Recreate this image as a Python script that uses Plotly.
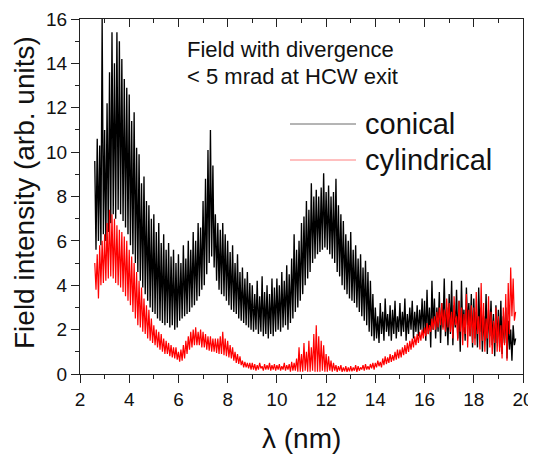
import plotly.graph_objects as go

LAMBDA_START = 2.60
LAMBDA_STEP = 0.05

# conical guide: field intensity, alternating local maxima / minima of the noisy trace
conical = [
    9.6, 5.6, 10.6, 6.0, 10.3, 5.8, 16.0, 6.3,
    11.0, 6.0, 12.2, 6.4, 13.6, 6.8, 15.4, 7.2, 14.0, 7.0, 15.4, 7.4, 15.0, 7.2, 14.2, 6.9, 13.3, 6.6, 12.9, 6.3,
    12.6, 5.8, 11.4, 5.4, 11.8, 5.0, 10.2, 4.6, 9.9, 4.2, 8.6, 3.9, 8.9, 3.6, 7.8, 3.3, 7.6, 3.0, 7.0, 2.8,
    7.2, 2.7, 6.4, 2.5, 6.8, 2.4, 5.9, 2.3, 6.3, 2.2, 5.6, 2.3, 5.9, 2.1, 5.3, 2.2, 5.6, 2.0, 5.0, 2.1,
    5.4, 2.4, 5.0, 2.5, 5.8, 2.6, 5.2, 2.7, 6.0, 2.8, 5.6, 3.0, 6.4, 3.1, 6.0, 3.3, 6.8, 3.5, 6.6, 3.8,
    7.8, 4.0, 8.8, 4.5, 10.1, 5.0, 11.0, 5.3, 9.4, 4.8, 7.2, 4.2, 6.8, 3.8, 6.5, 3.6, 6.8, 3.5, 6.3, 3.3,
    6.0, 3.1, 5.5, 2.9, 5.8, 2.8, 5.0, 2.7, 5.4, 2.5, 4.6, 2.4, 4.8, 2.3, 4.3, 2.2, 4.6, 2.1, 4.1, 2.0,
    4.0, 1.9, 3.6, 2.0, 4.2, 1.8, 3.5, 1.9, 4.4, 1.7, 3.7, 1.8, 4.0, 1.6, 3.6, 1.8, 4.3, 1.7, 3.9, 1.9,
    4.3, 2.0, 4.0, 1.9, 4.6, 2.1, 4.2, 2.2, 4.9, 2.0, 4.5, 2.3, 5.2, 2.5, 6.3, 2.8, 5.6, 3.0, 6.0, 3.3,
    6.8, 3.6, 7.1, 4.0, 7.8, 4.3, 7.4, 4.6, 8.6, 5.0, 8.0, 5.2, 8.3, 5.4, 8.0, 5.5, 8.4, 5.6, 9.05, 5.7,
    8.2, 5.6, 8.5, 5.4, 8.0, 5.2, 8.2, 5.0, 8.8, 4.6, 7.6, 4.4, 7.2, 4.0, 6.9, 3.8, 6.3, 3.6, 6.0, 3.4,
    6.4, 3.3, 5.6, 3.2, 5.8, 3.0, 5.2, 2.8, 5.4, 2.6, 4.8, 2.4, 5.1, 2.2, 4.6, 1.9, 4.2, 1.7, 3.6, 1.5,
    3.0, 1.6, 2.6, 1.4, 3.2, 1.8, 2.8, 1.5, 3.4, 1.9, 2.7, 1.7, 3.1, 1.5, 2.9, 1.8, 3.3, 1.6, 2.6, 1.9,
    3.2, 1.7, 2.8, 1.9, 3.4, 1.5, 2.7, 1.8, 3.0, 2.0, 3.3, 1.6, 2.8, 1.9, 3.1, 1.7, 2.9, 2.0, 3.4, 1.8,
    3.3, 1.5, 3.8, 1.8, 3.0, 1.2, 4.2, 2.0, 3.4, 1.6, 3.0, 1.9, 3.7, 1.4, 3.2, 2.1, 4.3, 1.7, 3.0, 1.3,
    3.6, 1.8, 4.2, 1.3, 3.1, 2.1, 3.8, 1.6, 3.3, 1.0, 4.2, 1.9, 2.9, 1.5, 3.9, 2.2, 3.2, 1.7, 3.6, 1.2,
    3.4, 1.6, 2.8, 1.2, 3.9, 1.9, 3.0, 1.0, 2.6, 1.5, 3.6, 0.9, 2.9, 1.7, 3.3, 1.3, 2.7, 0.8, 3.1, 1.4,
    2.9, 1.2, 3.3, 0.9, 2.6, 1.4, 3.0, 0.7, 2.4, 1.1, 2.0, 0.6, 2.2, 1.3, 1.6,
]

# cylindrical guide: field intensity on the same grid
cylindrical = [
    5.0, 3.8, 5.4, 3.4, 5.8, 4.0, 6.0, 4.1,
    6.3, 4.2, 6.8, 4.3, 7.4, 4.4, 7.2, 4.3, 7.0, 4.1, 6.7, 4.0, 6.5, 3.9, 6.4, 3.7, 6.2, 3.5, 6.0, 3.3,
    5.6, 3.1, 5.3, 2.8, 5.0, 2.5, 4.6, 2.2, 4.2, 2.1, 3.9, 1.9, 3.4, 1.8, 3.1, 1.6, 2.9, 1.5, 2.5, 1.4,
    2.2, 1.3, 2.0, 1.2, 1.9, 1.1, 1.8, 1.0, 1.6, 0.9, 1.5, 0.9, 1.4, 0.8, 1.3, 0.75, 1.2, 0.7, 1.2, 0.65,
    1.0, 0.55, 1.1, 0.6, 1.3, 0.7, 1.5, 0.9, 1.7, 1.1, 1.9, 1.2, 2.0, 1.3, 2.1, 1.3, 1.9, 1.3, 2.0, 1.2,
    1.9, 1.2, 1.8, 1.1, 1.7, 1.05, 1.7, 1.0, 1.6, 1.0, 1.6, 0.95, 1.6, 0.9, 1.7, 0.9, 1.9, 0.85, 1.6, 0.8,
    1.5, 0.75, 1.3, 0.7, 1.2, 0.6, 1.0, 0.5, 0.9, 0.45, 0.8, 0.4, 0.6, 0.3, 0.55, 0.3, 0.5, 0.25, 0.5, 0.2,
    0.5, 0.2, 0.45, 0.15, 0.4, 0.2, 0.5, 0.25, 0.35, 0.15, 0.45, 0.2, 0.4, 0.2, 0.5, 0.15, 0.4, 0.2, 0.45, 0.15,
    0.4, 0.2, 0.45, 0.15, 0.35, 0.2, 0.5, 0.15, 0.4, 0.2, 0.45, 0.1, 0.55, 0.15, 0.5, 0.15, 0.7, 0.1, 1.2, 0.1,
    0.9, 0.1, 1.4, 0.15, 1.0, 0.1, 1.5, 0.1, 1.2, 0.15, 1.8, 0.1, 2.2, 0.1, 1.7, 0.1, 1.5, 0.15, 1.3, 0.1,
    0.9, 0.1, 0.8, 0.15, 0.6, 0.1, 0.5, 0.15, 0.4, 0.1, 0.35, 0.15, 0.4, 0.1, 0.3, 0.12, 0.35, 0.1, 0.3, 0.12,
    0.35, 0.12, 0.3, 0.15, 0.4, 0.1, 0.35, 0.15, 0.3, 0.2, 0.4, 0.15, 0.45, 0.2, 0.35, 0.2, 0.45, 0.25, 0.5, 0.2,
    0.5, 0.3, 0.6, 0.35, 0.55, 0.3, 0.7, 0.4, 0.8, 0.45, 0.75, 0.5, 0.9, 0.55, 0.85, 0.6, 1.0, 0.65, 1.1, 0.7,
    1.1, 0.75, 1.2, 0.85, 1.3, 0.9, 1.4, 1.0, 1.5, 1.1, 1.6, 1.2, 1.7, 1.3, 1.8, 1.4, 1.9, 1.5, 2.0, 1.6,
    2.1, 1.7, 2.3, 1.8, 2.2, 1.9, 2.5, 2.0, 2.6, 2.0, 2.8, 2.1, 3.0, 2.2, 3.2, 2.0, 2.9, 1.9, 3.4, 2.1,
    3.2, 1.9, 2.8, 1.6, 3.5, 2.2, 2.6, 1.5, 3.3, 1.9, 3.0, 1.3, 2.7, 1.8, 3.6, 1.2, 2.9, 1.7, 3.1, 1.4,
    3.0, 1.3, 3.7, 1.8, 2.6, 1.1, 4.1, 1.5, 3.2, 1.0, 2.5, 1.6, 3.5, 1.2, 2.8, 0.9, 2.4, 1.4, 3.0, 1.0,
    2.6, 1.0, 2.2, 0.7, 3.0, 1.3, 3.6, 0.6, 4.1, 1.8, 4.8, 2.6, 4.3, 2.4, 2.8,
]

SERIES_NAMES = ["conical", "cylindrical"]
SERIES_COLORS = ["#000000", "#ff0000"]
SERIES_WIDTHS = [1.35, 1.2]
LEGEND_SAMPLE_COLORS = ["#6a6a6a", "#ff8080"]
X_TICKS = [2, 4, 6, 8, 10, 12, 14, 16, 18, 20]
Y_TICKS = [0, 2, 4, 6, 8, 10, 12, 14, 16]
X_TITLE = "λ (nm)"
Y_TITLE = "Field intensity (arb. units)"
NOTE_LINES = ["Field with divergence", "< 5 mrad at HCW exit"]


def grid(n):
    return [round(LAMBDA_START + LAMBDA_STEP * i, 4) for i in range(n)]


FONT = "Liberation Sans, Arial, sans-serif"
OFF = 8  # default page body margin of the written html
W, H = 536 - OFF, 455 - OFF
L, R, T, B = 80 - OFF, 13, 19 - OFF, 81
PW, PH = W - L - R, H - T - B


def px(xp):  # page pixel -> paper fraction
    return (xp - OFF - L) / PW


def py(yp):
    return 1 - (yp - OFF - T) / PH


fig = go.Figure()
for name, vals, col, lw in zip(SERIES_NAMES, [conical, cylindrical], SERIES_COLORS, SERIES_WIDTHS):
    fig.add_trace(go.Scatter(
        x=grid(len(vals)), y=vals, mode="lines", name=name,
        line=dict(color=col, width=lw, simplify=False),
        showlegend=False, hoverinfo="skip",
    ))

# invisible trace to anchor the top (mirrored) axis with inward ticks
fig.add_trace(go.Scatter(x=[None], y=[None], xaxis="x2", showlegend=False, hoverinfo="skip"))

axis_common = dict(showgrid=False, zeroline=False, showline=True, linecolor="#222",
                   linewidth=1.3, tickcolor="#222", tickwidth=1.3, automargin=False)

fig.update_layout(
    width=W, height=H,
    margin=dict(l=L, r=R, t=T, b=B),
    paper_bgcolor="white", plot_bgcolor="white",
    font=dict(family=FONT, color="#111"),
    xaxis=dict(range=[2, 20], tickvals=X_TICKS, ticks="outside", ticklen=8,
               minor=dict(ticks="outside", ticklen=4, dtick=1, tick0=2, tickcolor="#222", tickwidth=1.3),
               tickfont=dict(size=19), **axis_common),
    xaxis2=dict(range=[2, 20], overlaying="x", side="top", matches="x", tickvals=X_TICKS,
                ticks="inside", ticklen=8, showticklabels=False,
                minor=dict(ticks="inside", ticklen=4, dtick=1, tick0=2, tickcolor="#222", tickwidth=1.3),
                **axis_common),
    yaxis=dict(range=[0, 16], tickvals=Y_TICKS, ticks="outside", ticklen=8, mirror=True,
               minor=dict(ticks="outside", ticklen=4, dtick=1, tick0=0, tickcolor="#222", tickwidth=1.3),
               tickfont=dict(size=19), **axis_common),
)

# axis titles
fig.add_annotation(xref="paper", yref="paper", x=px(301), y=py(438), xanchor="center", yanchor="middle",
                   showarrow=False, text=X_TITLE, font=dict(size=28, family=FONT, color="#111"))
fig.add_annotation(xref="paper", yref="paper", x=px(24), y=py(193), xanchor="center", yanchor="middle",
                   showarrow=False, text=Y_TITLE, textangle=-90,
                   font=dict(size=28, family=FONT, color="#111"))

# annotation text
for i, line in enumerate(NOTE_LINES):
    fig.add_annotation(xref="paper", yref="paper", x=px(185), y=py(49 + 27 * i),
                       xanchor="left", yanchor="middle", showarrow=False, text=line,
                       font=dict(size=22, family=FONT, color="#111"))

# manual legend (long line samples like the original)
for i, (name, col) in enumerate(zip(SERIES_NAMES, LEGEND_SAMPLE_COLORS)):
    yc = py(124 + 36 * i)
    fig.add_shape(type="line", xref="paper", yref="paper",
                  x0=px(290), x1=px(356), y0=yc, y1=yc,
                  line=dict(color=col, width=1))
    fig.add_annotation(xref="paper", yref="paper", x=px(363), y=yc,
                       xanchor="left", yanchor="middle", showarrow=False, text=name,
                       font=dict(size=29, family=FONT, color="#111"))

fig.write_html("out.html")
